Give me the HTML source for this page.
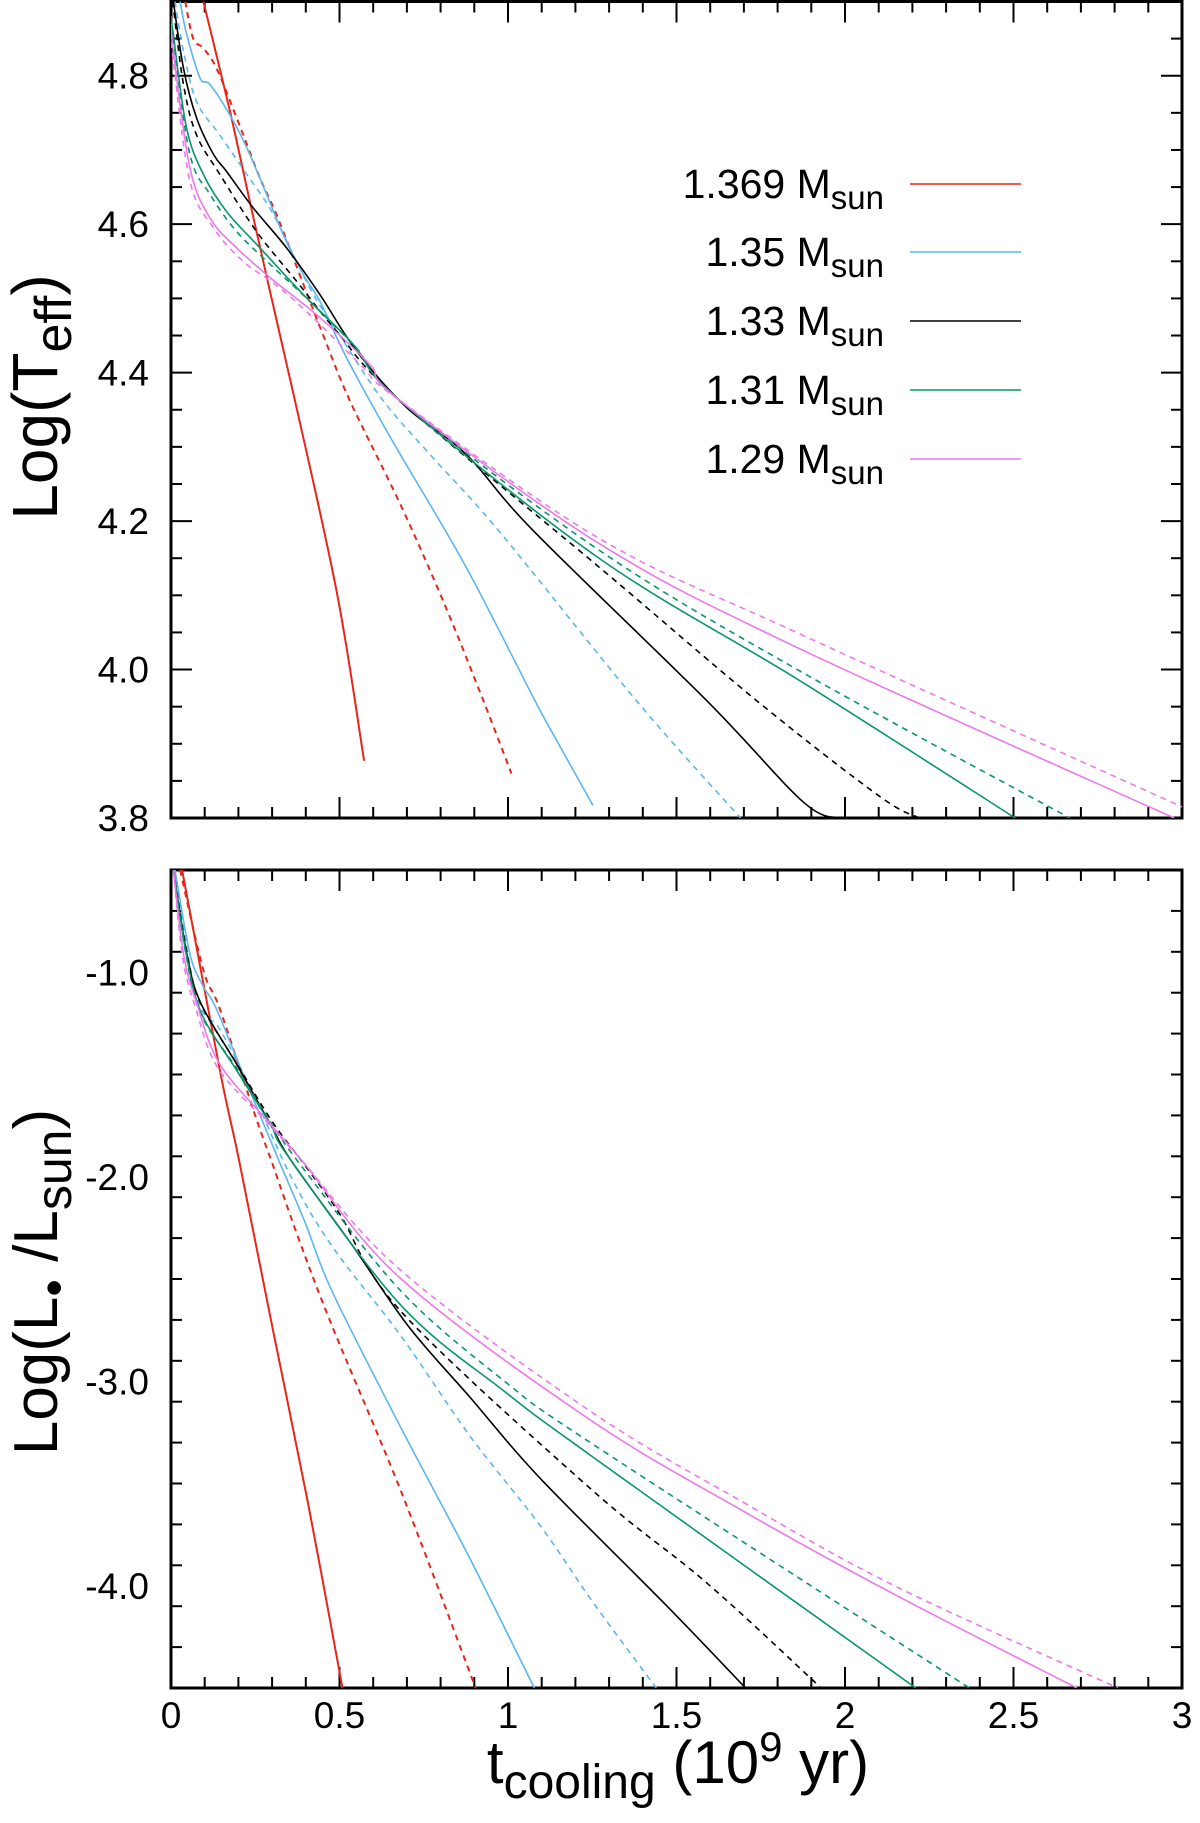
<!DOCTYPE html>
<html><head><meta charset="utf-8"><style>
html,body{margin:0;padding:0;background:#fff;}
svg{display:block;font-family:"Liberation Sans",Arial,sans-serif;}
</style></head><body>
<svg id="chart" width="1200" height="1823" viewBox="0 0 1200 1823" xmlns="http://www.w3.org/2000/svg">
<defs>
<clipPath id="clipTop"><rect x="171" y="1.5" width="1011" height="816.5"/></clipPath>
<clipPath id="clipBot"><rect x="171" y="870" width="1011" height="818"/></clipPath>
</defs>
<g id="axes"></g>
<g id="series"></g>
<g id="labels"></g>
</svg>
<script>
// ---- data ----
const massLabels = ["1.369", "1.35", "1.33", "1.31", "1.29"];
const xTickLabels = ["0", "0.5", "1", "1.5", "2", "2.5", "3"];
const topTickLabels = ["3.8", "4.0", "4.2", "4.4", "4.6", "4.8"];
const botTickLabels = ["-4.0", "-3.0", "-2.0", "-1.0"];

// top panel: Log(Teff) vs t
const teff_1369_solid_t = [0.096,0.175,0.234,0.289,0.368,0.493,0.573];
const teff_1369_solid_v = [4.9,4.752,4.63,4.519,4.362,4.102,3.877];
const teff_1369_dash_t = [0.042,0.066,0.096,0.135,0.195,0.264,0.313,0.393,0.452,0.531,0.68,0.808,0.927,1.01];
const teff_1369_dash_v = [4.9,4.85,4.837,4.81,4.743,4.662,4.613,4.519,4.45,4.362,4.223,4.092,3.958,3.86];
const teff_135_solid_t = [0.027,0.047,0.086,0.116,0.175,0.225,0.284,0.333,0.393,0.442,0.511,0.59,0.68,0.877,1.08,1.15,1.252];
const teff_135_solid_v = [4.9,4.855,4.797,4.788,4.747,4.703,4.64,4.586,4.532,4.496,4.429,4.362,4.29,4.137,3.958,3.9,3.817];
const teff_135_dash_t = [0.012,0.037,0.076,0.145,0.225,0.304,0.412,0.501,0.63,0.778,0.976,1.381,1.69];
const teff_135_dash_v = [4.9,4.833,4.765,4.72,4.667,4.613,4.514,4.45,4.362,4.285,4.185,3.958,3.8];
const teff_133_solid_t = [0.007,0.037,0.076,0.126,0.165,0.244,0.343,0.442,0.551,0.699,0.876,1.075,1.59,1.88,1.994];
const teff_133_solid_v = [4.9,4.81,4.743,4.694,4.671,4.622,4.568,4.505,4.429,4.353,4.29,4.187,3.958,3.82,3.8];
const teff_133_dash_t = [0.005,0.037,0.076,0.145,0.254,0.373,0.491,0.68,1.273,1.738,2.1,2.22];
const teff_133_dash_v = [4.9,4.788,4.72,4.667,4.59,4.523,4.456,4.362,4.137,3.958,3.83,3.8];
const teff_131_solid_t = [0,0.007,0.046,0.096,0.165,0.264,0.393,0.541,0.68,1.273,1.866,2.505];
const teff_131_solid_v = [4.88,4.855,4.73,4.667,4.617,4.568,4.505,4.438,4.362,4.149,3.985,3.8];
const teff_131_dash_t = [0,0.007,0.056,0.116,0.195,0.294,0.412,0.55,0.68,1.273,1.866,2.667];
const teff_131_dash_v = [4.88,4.846,4.694,4.64,4.59,4.546,4.496,4.433,4.362,4.16,3.998,3.8];
const teff_129_solid_t = [0,0.007,0.056,0.116,0.195,0.294,0.442,0.59,0.68,1.273,1.866,2.977];
const teff_129_solid_v = [4.87,4.833,4.676,4.608,4.568,4.528,4.474,4.411,4.362,4.169,4.028,3.8];
const teff_129_dash_t = [0,0.007,0.056,0.126,0.214,0.323,0.442,0.57,0.68,1.273,1.866,3.0];
const teff_129_dash_v = [4.86,4.82,4.658,4.595,4.55,4.514,4.465,4.407,4.362,4.176,4.048,3.815];

// bottom panel: Log(L/Lsun) vs t
const lum_1369_solid_t = [0.033,0.145,0.202,0.304,0.407,0.509];
const lum_1369_solid_v = [-0.5,-1.48,-1.92,-2.76,-3.6,-4.5];
const lum_1369_dash_t = [0.027,0.096,0.145,0.254,0.304,0.376,0.478,0.683,0.904];
const lum_1369_dash_v = [-0.5,-0.99,-1.18,-1.72,-1.95,-2.29,-2.73,-3.54,-4.5];
const lum_135_solid_t = [0.012,0.056,0.096,0.135,0.234,0.32,0.397,0.478,0.683,0.888,1.078];
const lum_135_solid_v = [-0.5,-0.91,-1.07,-1.18,-1.58,-1.92,-2.22,-2.56,-3.23,-3.87,-4.5];
const lum_135_dash_t = [0.01,0.076,0.145,0.234,0.356,0.478,0.683,0.888,1.093,1.256,1.44];
const lum_135_dash_v = [-0.5,-1.12,-1.28,-1.56,-2.0,-2.34,-2.78,-3.27,-3.7,-4.09,-4.5];
const lum_133_solid_t = [0.007,0.047,0.088,0.195,0.294,0.356,0.54,0.704,0.888,1.093,1.472,1.705];
const lum_133_solid_v = [-0.5,-0.91,-1.15,-1.45,-1.74,-1.92,-2.34,-2.73,-3.08,-3.47,-4.1,-4.5];
const lum_133_dash_t = [0.007,0.05,0.09,0.2,0.3,0.4,0.5,0.683,1.244,1.585,1.892,1.926];
const lum_133_dash_v = [-0.5,-0.93,-1.16,-1.46,-1.73,-1.95,-2.18,-2.66,-3.524,-3.979,-4.443,-4.5];
const lum_131_solid_t = [0.007,0.045,0.09,0.195,0.294,0.356,0.683,0.99,1.244,2.21];
const lum_131_solid_v = [-0.5,-0.91,-1.2,-1.48,-1.74,-1.92,-2.63,-3.05,-3.361,-4.5];
const lum_131_dash_t = [0.007,0.045,0.09,0.195,0.294,0.393,0.683,0.99,1.261,2.369];
const lum_131_dash_v = [-0.5,-0.92,-1.21,-1.47,-1.73,-1.96,-2.56,-3.0,-3.318,-4.5];
const lum_129_solid_t = [0.007,0.037,0.076,0.145,0.294,0.393,0.683,1.244,1.699,2.153,2.688];
const lum_129_solid_v = [-0.5,-0.91,-1.15,-1.45,-1.74,-1.93,-2.5,-3.189,-3.636,-4.048,-4.5];
const lum_129_dash_t = [0.007,0.035,0.072,0.14,0.294,0.393,0.683,1.244,1.699,2.153,2.81];
const lum_129_dash_v = [-0.5,-0.93,-1.17,-1.47,-1.75,-1.93,-2.46,-3.146,-3.593,-4.005,-4.5];

// ---- layout ----
const NS = "http://www.w3.org/2000/svg";
const X0 = 171, X1 = 1182;
const TOP = {y0: 1.5, y1: 818, vmin: 3.8, vmax: 4.9};
const BOT = {y0: 870, y1: 1688, vmin: -4.5, vmax: -0.5};
const colors = ["#e8241b", "#5bb7ee", "#000000", "#07976a", "#ee78eb"];
function xs(t){ return X0 + t/3*(X1-X0); }
function ys(p, v){ return p.y1 - (v-p.vmin)/(p.vmax-p.vmin)*(p.y1-p.y0); }
function el(tag, attrs, parent){
  const e = document.createElementNS(NS, tag);
  for (const k in attrs) e.setAttribute(k, attrs[k]);
  parent.appendChild(e); return e;
}
const axes = document.getElementById("axes");
const seriesG = document.getElementById("series");
const labels = document.getElementById("labels");

function drawFrame(p, name, minorStep, majorStep){
  const r = el("rect", {x:X0, y:p.y0, width:X1-X0, height:p.y1-p.y0, fill:"none", stroke:"#000", "stroke-width":3}, axes);
  
  
  for (let i=0;i<=30;i++){
    const x = xs(i*0.1); const len = (i%5===0)?21:11;
    el("line",{x1:x,y1:p.y1,x2:x,y2:p.y1-len,stroke:"#000","stroke-width":2},axes);
    el("line",{x1:x,y1:p.y0,x2:x,y2:p.y0+len,stroke:"#000","stroke-width":2},axes);
  }
  const n = Math.round((p.vmax-p.vmin)/minorStep);
  for (let i=0;i<=n;i++){
    const v = p.vmin + i*minorStep; const y = ys(p, v);
    const r2 = Math.abs(v/majorStep - Math.round(v/majorStep));
    const len = r2 < 1e-6 ? 21 : 11;
    el("line",{x1:X0,y1:y,x2:X0+len,y2:y,stroke:"#000","stroke-width":2},axes);
    el("line",{x1:X1,y1:y,x2:X1-len,y2:y,stroke:"#000","stroke-width":2},axes);
  }
}
drawFrame(TOP, "top-panel", 0.05, 0.2);
drawFrame(BOT, "bottom-panel", 0.2, 1.0);

topTickLabels.forEach(function(s){
  const t = el("text",{x:149,y:ys(TOP, parseFloat(s))+13,"font-size":37,"text-anchor":"end",fill:"#000"},labels);
  t.textContent = s;
  
  
});
botTickLabels.forEach(function(s){
  const t = el("text",{x:149,y:ys(BOT, parseFloat(s))+13,"font-size":37,"text-anchor":"end",fill:"#000"},labels);
  t.textContent = s;
  
  
});
xTickLabels.forEach(function(s){
  const t = el("text",{x:xs(parseFloat(s)),y:1728,"font-size":37,"text-anchor":"middle",fill:"#000"},labels);
  t.textContent = s;
  
  
});

const topSeries = [
  [teff_1369_solid_t, teff_1369_solid_v, 0, false],[teff_1369_dash_t, teff_1369_dash_v, 0, true],
  [teff_135_solid_t, teff_135_solid_v, 1, false],[teff_135_dash_t, teff_135_dash_v, 1, true],
  [teff_133_solid_t, teff_133_solid_v, 2, false],[teff_133_dash_t, teff_133_dash_v, 2, true],
  [teff_131_solid_t, teff_131_solid_v, 3, false],[teff_131_dash_t, teff_131_dash_v, 3, true],
  [teff_129_solid_t, teff_129_solid_v, 4, false],[teff_129_dash_t, teff_129_dash_v, 4, true]
];
const botSeries = [
  [lum_1369_solid_t, lum_1369_solid_v, 0, false],[lum_1369_dash_t, lum_1369_dash_v, 0, true],
  [lum_135_solid_t, lum_135_solid_v, 1, false],[lum_135_dash_t, lum_135_dash_v, 1, true],
  [lum_133_solid_t, lum_133_solid_v, 2, false],[lum_133_dash_t, lum_133_dash_v, 2, true],
  [lum_131_solid_t, lum_131_solid_v, 3, false],[lum_131_dash_t, lum_131_dash_v, 3, true],
  [lum_129_solid_t, lum_129_solid_v, 4, false],[lum_129_dash_t, lum_129_dash_v, 4, true]
];
function smoothPath(P){
  let d = "M" + P[0][0].toFixed(1) + "," + P[0][1].toFixed(1);
  for (let i=0;i<P.length-1;i++){
    const p0 = P[Math.max(0,i-1)], p1 = P[i], p2 = P[i+1], p3 = P[Math.min(P.length-1,i+2)];
    const c1x = p1[0] + (p2[0]-p0[0])/6, c1y = p1[1] + (p2[1]-p0[1])/6;
    const c2x = p2[0] - (p3[0]-p1[0])/6, c2y = p2[1] - (p3[1]-p1[1])/6;
    d += " C" + c1x.toFixed(1)+","+c1y.toFixed(1)+" "+c2x.toFixed(1)+","+c2y.toFixed(1)+" "+p2[0].toFixed(1)+","+p2[1].toFixed(1);
  }
  return d;
}
function drawSeries(list, p, clip, prefix){
  const g = el("g",{"clip-path":"url(#"+clip+")"},seriesG);
  list.forEach(function(s){
    const ts = s[0], vs = s[1];
    const P = ts.map(function(t,i){ return [xs(t), ys(p, vs[i])]; });
    const attrs = {d:smoothPath(P), fill:"none", stroke:colors[s[2]], "stroke-width": s[2]===0 ? 2 : 1.6, "stroke-linejoin":"round"};
    if (s[3]) attrs["stroke-dasharray"] = "6,5";
    const line = el("path", attrs, g);
    
    
  });
}
drawSeries(topSeries, TOP, "clipTop", "teff-curve");
drawSeries(botSeries, BOT, "clipBot", "lum-curve");

const legendY = [184, 252, 321, 390, 459];
massLabels.forEach(function(m, i){
  const g = el("g",{},labels);
  
  
  const t = el("text",{x:884,y:legendY[i]+14,"font-size":41,"text-anchor":"end",fill:"#000"},g);
  const a = document.createElementNS(NS,"tspan"); a.textContent = m + " M"; t.appendChild(a);
  const b = document.createElementNS(NS,"tspan"); b.setAttribute("dy","11"); b.setAttribute("font-size","33"); b.textContent = "sun"; t.appendChild(b);
  el("line",{x1:910,y1:legendY[i],x2:1021,y2:legendY[i],stroke:colors[i],"stroke-width":1.6},g);
});
</script>
<svg style="position:absolute;left:0;top:0" width="1200" height="1823" viewBox="0 0 1200 1823" xmlns="http://www.w3.org/2000/svg">
<text transform="translate(57,397) rotate(-90)" text-anchor="middle" font-family="Liberation Sans, Arial, sans-serif" font-size="64">Log(T<tspan dy="14" font-size="52">eff</tspan><tspan dy="-14">)</tspan></text>
<text transform="translate(57,1282) rotate(-90)" text-anchor="middle" font-family="Liberation Sans, Arial, sans-serif" font-size="62">Log(L<tspan dy="14" font-size="50">•</tspan><tspan dy="-14"> /L</tspan><tspan dy="14" font-size="50">sun</tspan><tspan dy="-14">)</tspan></text>
<text x="678" y="1783" text-anchor="middle" font-family="Liberation Sans, Arial, sans-serif" font-size="60">t<tspan dy="15" font-size="48">cooling</tspan><tspan dy="-15"> (10</tspan><tspan dy="-22" font-size="42">9</tspan><tspan dy="22"> yr)</tspan></text>
</svg>
</body></html>
